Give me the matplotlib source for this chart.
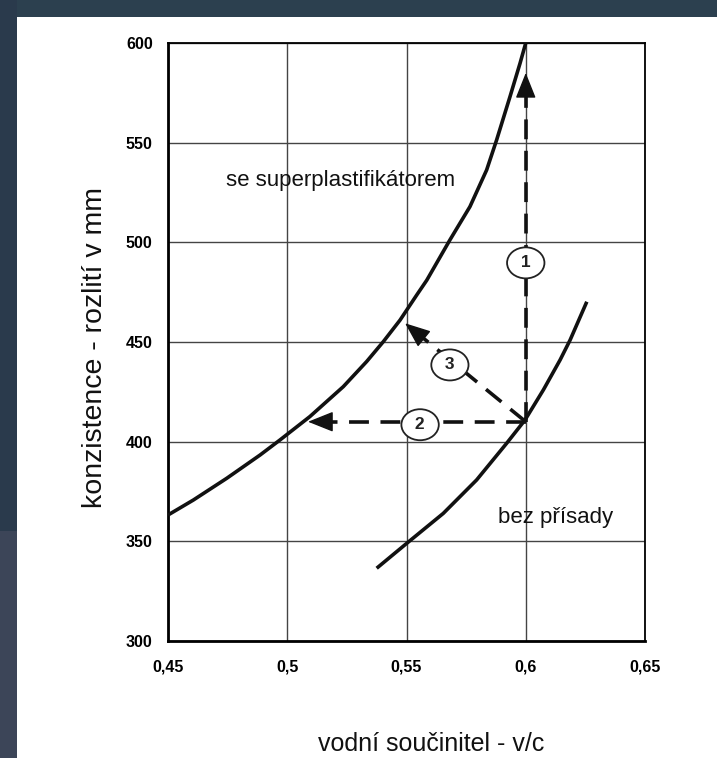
import matplotlib
matplotlib.use("Agg")
import matplotlib.pyplot as plt
from matplotlib.patches import Rectangle
import numpy as np

# ---- data ----
sp_x = [0.45, 0.4606, 0.4746, 0.4886, 0.497, 0.5095, 0.5235, 0.5333, 0.5403, 0.5473,
        0.5543, 0.5585, 0.5682, 0.5766, 0.5836, 0.5878, 0.5934, 0.5976, 0.6]
sp_y = [363.2, 370.7, 381.6, 393.3, 400.9, 412.6, 427.6, 440.2, 450.2, 461,
        473.6, 481, 501.2, 517.9, 536.3, 551.4, 573.1, 589.8, 600]
bp_x = [0.5375, 0.5501, 0.5654, 0.5794, 0.592, 0.5997, 0.6074, 0.6144, 0.6186, 0.6256]
bp_y = [336.5, 349, 364, 380.8, 399.2, 410.9, 426, 441, 451, 470.2]

x_ticks = [0.45, 0.5, 0.55, 0.6, 0.65]
x_tick_labels = ["0,45", "0,5", "0,55", "0,6", "0,65"]
y_ticks = [300, 350, 400, 450, 500, 550, 600]

origin = (0.6, 410)
arrow1_tip = (0.6, 585)
arrow2_tip = (0.5087, 410)
arrow3_tip = (0.5494, 459.4)
labels_num = ["1", "2", "3"]
label_pos = [(0.6, 489.7), (0.5557, 408.5), (0.5682, 438.5)]

plt.rcParams['font.family'] = ['Liberation Sans', 'DejaVu Sans']

fig = plt.figure(figsize=(7.17, 7.58), dpi=100)
fig.patch.set_facecolor('white')
# dark frame strips (top and left)
fig.patches.append(Rectangle((0, 1 - 17/758), 1, 17/758, transform=fig.transFigure,
                             facecolor='#2c404f', edgecolor='none', zorder=0))
fig.patches.append(Rectangle((0, 0), 17/717, 1, transform=fig.transFigure,
                             facecolor='#2a3a4c', edgecolor='none', zorder=0))
fig.patches.append(Rectangle((0, 0), 17/717, 0.3, transform=fig.transFigure,
                             facecolor='#3c4558', edgecolor='none', zorder=0))

ax = fig.add_axes([168/717, 1 - 641/758, (645 - 168)/717, (641 - 43)/758])
ax.set_xlim(0.45, 0.65)
ax.set_ylim(300, 600)
ax.set_xticks(x_ticks)
ax.set_xticklabels(x_tick_labels, fontsize=11.5, fontweight='bold')
ax.set_yticks(y_ticks)
ax.set_yticklabels([str(v) for v in y_ticks], fontsize=11.5, fontweight='bold')
ax.tick_params(length=0)
ax.tick_params(axis='y', pad=11)
ax.tick_params(axis='x', pad=13)
ax.grid(True, color='#444444', linewidth=1.0)
ax.set_axisbelow(True)
for s in ['top', 'right']:
    ax.spines[s].set_linewidth(1.3)
for s in ['left', 'bottom']:
    ax.spines[s].set_linewidth(2.0)

# curves
ax.plot(sp_x, sp_y, color='#111111', linewidth=2.6, solid_capstyle='butt',
        solid_joinstyle='round', zorder=3)
ax.plot(bp_x, bp_y, color='#111111', linewidth=2.6, solid_capstyle='butt',
        solid_joinstyle='round', zorder=3)

dash = (0, (5.5, 3.2))

def px(pt):
    return ax.transData.transform(pt)

def dashed_arrow(start, tip, head_px=16):
    s = px(start); t = px(tip)
    d = t - s
    L = np.hypot(*d)
    base_disp = t - d / L * head_px
    base = ax.transData.inverted().transform(base_disp)
    ax.plot([start[0], base[0]], [start[1], base[1]], color='#111111',
            linewidth=2.6, linestyle=dash, zorder=4)
    ax.annotate('', xy=tip, xytext=base,
                arrowprops=dict(arrowstyle='-|>,head_length=0.8,head_width=0.32',
                                color='#111111', lw=1, shrinkA=0, shrinkB=0,
                                mutation_scale=20), zorder=5)

dashed_arrow(origin, arrow1_tip)
dashed_arrow(origin, arrow2_tip)
dashed_arrow(origin, arrow3_tip)

for lab, (lx, ly) in zip(labels_num, label_pos):
    ax.text(lx, ly, " " + lab + " ", fontsize=12.5, fontweight='bold', ha='center',
            va='center', zorder=6, color='#222222',
            bbox=dict(boxstyle='ellipse,pad=0.2', facecolor='white', edgecolor='#222222',
                      linewidth=1.3))

ax.text(0.5225, 531, "se superplastifikátorem", fontsize=16, ha='center', va='center',
        color='#111111', zorder=6)
ax.text(0.6127, 362, "bez přísady", fontsize=16, ha='center', va='center',
        color='#111111', zorder=6)

fig.text(95/717, 1 - 347/758, "konzistence - rozlití v mm", rotation=90, fontsize=20.5,
         ha='center', va='center', color='#111111')
fig.text(431/717, 1 - 744/758, "vodní součinitel - v/c", fontsize=18,
         ha='center', va='center', color='#111111')

fig.savefig('out.png', dpi=100)
